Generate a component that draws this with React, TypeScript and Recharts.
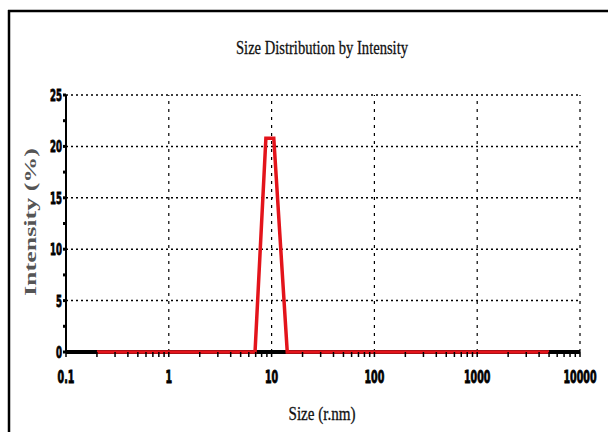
import React from "react";
import { LineChart, Line, XAxis, YAxis, ReferenceLine } from "recharts";

// size (r.nm) vs intensity (%)
const sizes = [0.2, 6.9, 8.8, 10.5, 14.2, 5000];
const intensity = [0, 0, 20.8, 20.8, 0, 0];

const xMajor = [0.1, 1, 10, 100, 1000, 10000];
const xMultipliers = [2, 3, 4, 5, 6, 7, 8, 9];
const yTicks = [0, 2.5, 5, 7.5, 10, 12.5, 15, 17.5, 20, 22.5, 25];
const yGrid = [5, 10, 15, 20, 25];

const xTicks = [
    ...xMajor,
    ...xMajor.slice(0, -1).flatMap((d) => xMultipliers.map((m) => d * m)),
].sort((a, b) => a - b);

const data = sizes.map((s, i) => ({ size: s, value: intensity[i] }));

const tickFont = "'Liberation Sans Narrow', 'DejaVu Sans Condensed', Arial, sans-serif";
const serif = "'Liberation Serif', 'Times New Roman', serif";

const XTick = (props: any) => {
    const { x, y, payload } = props;
    const v = payload.value;
    if (!xMajor.some((m) => Math.abs(m - v) < 1e-9)) return null;
    return (
        <text
            transform={`translate(${x} ${y + 24}) scale(0.62 1)`}
            textAnchor="middle"
            fontFamily={tickFont}
            fontWeight="900"
            fontSize={17}
            fill="#000"
            stroke="#000"
            strokeWidth={0.8}
        >
            {String(v)}
        </text>
    );
};

const YTick = (props: any) => {
    const { x, y, payload } = props;
    const v = payload.value;
    if (v % 5 !== 0) return null;
    return (
        <text
            transform={`translate(${x} ${y + 6}) scale(0.6 1)`}
            textAnchor="end"
            fontFamily={tickFont}
            fontWeight="900"
            fontSize={16}
            fill="#000"
            stroke="#000"
            strokeWidth={0.8}
        >
            {String(v)}
        </text>
    );
};

export default function App() {
    return (
        <div style={{ position: "absolute", left: 0, top: 0, width: 608, height: 432, background: "#fff" }}>
            <LineChart
                width={608}
                height={432}
                data={data}
                margin={{ top: 95, right: 28, bottom: 50, left: 26 }}
            >
                {yGrid.map((v) => (
                    <ReferenceLine key={"h" + v} y={v} stroke="#000" strokeWidth={1.5} strokeDasharray="2 3" />
                ))}
                {xMajor.slice(1).map((v) => (
                    <ReferenceLine key={"v" + v} x={v} stroke="#000" strokeWidth={1.2} strokeDasharray="3 5" />
                ))}
                <ReferenceLine y={0} stroke="#000" strokeWidth={4} />
                <XAxis
                    dataKey="size"
                    type="number"
                    scale="log"
                    domain={[0.1, 10000]}
                    ticks={xTicks}
                    height={30}
                    axisLine={false}
                    tickLine={{ stroke: "#000", strokeWidth: 1.5 }}
                    tickSize={5}
                    tick={<XTick />}
                    interval={0}
                />
                <YAxis
                    type="number"
                    domain={[0, 25]}
                    ticks={yTicks}
                    width={40}
                    axisLine={{ stroke: "#000", strokeWidth: 2 }}
                    tickLine={{ stroke: "#000", strokeWidth: 3 }}
                    tickSize={3}
                    tickMargin={1}
                    tick={<YTick />}
                    interval={0}
                />
                <Line
                    type="linear"
                    dataKey="value"
                    stroke="#e3141b"
                    strokeWidth={3.5}
                    dot={false}
                    isAnimationActive={false}
                />
            </LineChart>
            <svg
                width={608}
                height={432}
                style={{ position: "absolute", left: 0, top: 0, pointerEvents: "none" }}
            >
                <line x1={9} y1={10} x2={9} y2={432} stroke="#000" strokeWidth={2.5} />
                <line x1={8} y1={11} x2={608} y2={11} stroke="#000" strokeWidth={2.5} />
                <text
                    x={322}
                    y={54}
                    textAnchor="middle"
                    fontFamily={serif}
                    fontSize={19}
                    textLength={172}
                    lengthAdjust="spacingAndGlyphs"
                    fill="#111"
                    stroke="#111"
                    strokeWidth={0.3}
                >
                    Size Distribution by Intensity
                </text>
                <text
                    x={322}
                    y={420}
                    textAnchor="middle"
                    fontFamily={serif}
                    fontSize={19}
                    textLength={67}
                    lengthAdjust="spacingAndGlyphs"
                    fill="#111"
                    stroke="#111"
                    strokeWidth={0.3}
                >
                    Size (r.nm)
                </text>
                <text
                    transform="translate(36 222) rotate(-90)"
                    textAnchor="middle"
                    fontFamily={serif}
                    fontSize={16}
                    fontWeight="bold"
                    textLength={148}
                    lengthAdjust="spacingAndGlyphs"
                    fill="#555"
                >
                    Intensity (%)
                </text>
            </svg>
        </div>
    );
}
